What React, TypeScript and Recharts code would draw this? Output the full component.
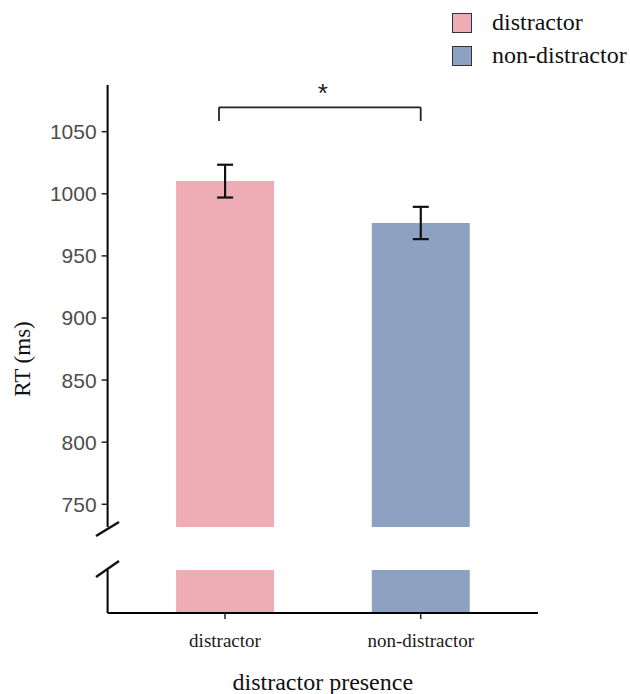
import React from 'react';
import { BarChart, Bar, XAxis, YAxis, Cell, ErrorBar, ReferenceLine, Label } from 'recharts';

// ---- data ----
const categories = ['distractor', 'non-distractor'];
const rtMeans = [1010.2, 976.5];
const rtErrors = [13.2, 13.0];
const barColors = ['#EEADB5', '#8DA2C2'];
const yTicks = [750, 800, 850, 900, 950, 1000, 1050];
const upperDomain: [number, number] = [731.7, 1087.6];
const lowerDomain: [number, number] = [0, 100];
const bracketTop = 1069.6;
const bracketBottom = 1058.6;
const sigLabel = '*';
const legendLabels = ['distractor', 'non-distractor'];
const xTitle = 'distractor presence';
const yTitle = 'RT (ms)';

const data = categories.map((c, i) => ({ category: c, rt: rtMeans[i], err: rtErrors[i] }));

const SERIF = '"Liberation Serif", "Times New Roman", serif';
const SANS = '"Liberation Sans", Arial, sans-serif';
const W = 630;
const H = 694;

const YTitle = () => {
  const cx = 22;
  const cy = 359;
  return (
    <text
      x={cx}
      y={cy}
      transform={`rotate(-90 ${cx} ${cy})`}
      textAnchor="middle"
      dominantBaseline="central"
      fontFamily={SERIF}
      fontSize={23}
      fill="#111"
    >
      {yTitle}
    </text>
  );
};

// bracket drawn along the reference segment; left end nudged slightly as in the figure
const BracketLine = (props: any) => {
  const { x1, y1, x2, y2, shiftLeft } = props;
  const a = shiftLeft ? x1 - 6 : x1;
  const b = shiftLeft && x2 === x1 ? x2 - 6 : x2;
  return <line x1={a} y1={y1} x2={b} y2={y2} stroke="#222" strokeWidth={1.8} />;
};

export default function App() {
  return (
    <div style={{ position: 'absolute', left: 0, top: 0, width: W, height: H, background: '#fff' }}>
      {/* upper segment */}
      <div style={{ position: 'absolute', left: 0, top: 0 }}>
        <BarChart width={W} height={H} data={data} margin={{ top: 85, right: 92, bottom: 167, left: 0 }} barCategoryGap="25%">
          <XAxis dataKey="category" hide padding={{ left: 19.55, right: 19.45 }} />
          <YAxis
            width={107.6}
            domain={upperDomain}
            allowDataOverflow
            ticks={yTicks}
            tickSize={6}
            tickMargin={5}
            axisLine={{ stroke: '#000', strokeWidth: 2 }}
            tickLine={{ stroke: '#222', strokeWidth: 1.5 }}
            tick={{ fill: '#4d4d4d', fontSize: 21, fontFamily: SANS }}
          >
            <Label content={<YTitle />} />
          </YAxis>
          <Bar dataKey="rt" isAnimationActive={false}>
            {data.map((d, i) => (
              <Cell key={d.category} fill={barColors[i]} />
            ))}
            <ErrorBar dataKey="err" width={8} stroke="#111" strokeWidth={2.2} direction="y" />
          </Bar>
          <ReferenceLine
            segment={[{ x: categories[0], y: bracketTop }, { x: categories[1], y: bracketTop }]}
            stroke="#222"
            strokeWidth={1.8}
            shape={(p: any) => <BracketLine {...p} shiftLeft />}
            label={{ value: sigLabel, position: 'top', offset: 5, fill: '#222', fontSize: 26, fontFamily: SANS }}
          />
          <ReferenceLine
            segment={[{ x: categories[0], y: bracketTop }, { x: categories[0], y: bracketBottom }]}
            stroke="#222"
            strokeWidth={1.8}
            shape={(p: any) => <BracketLine {...p} shiftLeft />}
          />
          <ReferenceLine
            segment={[{ x: categories[1], y: bracketTop }, { x: categories[1], y: bracketBottom }]}
            stroke="#222"
            strokeWidth={1.8}
            shape={(p: any) => <BracketLine {...p} />}
          />
        </BarChart>
      </div>

      {/* lower segment */}
      <div style={{ position: 'absolute', left: 0, top: 0 }}>
        <BarChart width={W} height={H} data={data} margin={{ top: 570, right: 92, bottom: 0, left: 0 }} barCategoryGap="25%">
          <XAxis
            dataKey="category"
            height={81}
            padding={{ left: 19.55, right: 19.45 }}
            tickSize={6}
            tickMargin={15}
            axisLine={{ stroke: '#000', strokeWidth: 2 }}
            tickLine={{ stroke: '#222', strokeWidth: 1.5 }}
            tick={{ fill: '#1a1a1a', fontSize: 19, fontFamily: SERIF }}
          >
            <Label value={xTitle} position="insideBottom" offset={4} fill="#111" fontSize={24} fontFamily={SERIF} />
          </XAxis>
          <YAxis
            width={107.6}
            domain={lowerDomain}
            allowDataOverflow
            tick={false}
            tickLine={false}
            axisLine={{ stroke: '#000', strokeWidth: 2 }}
          />
          <Bar dataKey="rt" isAnimationActive={false}>
            {data.map((d, i) => (
              <Cell key={d.category} fill={barColors[i]} />
            ))}
          </Bar>
        </BarChart>
      </div>

      {/* axis break marks */}
      <svg width={W} height={H} style={{ position: 'absolute', left: 0, top: 0, pointerEvents: 'none' }}>
        <line x1={96} y1={536} x2={119} y2={522} stroke="#111" strokeWidth={2.5} />
        <line x1={96} y1={577} x2={119} y2={561} stroke="#111" strokeWidth={2.5} />
      </svg>

      {/* legend */}
      {legendLabels.map((lab, i) => (
        <div
          key={lab}
          style={{
            position: 'absolute',
            left: 452,
            top: 12 + i * 33,
            height: 21,
            display: 'flex',
            alignItems: 'center',
          }}
        >
          <div
            style={{
              width: 18,
              height: 18,
              background: barColors[i],
              border: '1.5px solid #333',
            }}
          />
          <span
            style={{
              marginLeft: 20,
              fontFamily: SERIF,
              fontSize: 24,
              color: '#111',
              lineHeight: '21px',
              whiteSpace: 'nowrap',
            }}
          >
            {lab}
          </span>
        </div>
      ))}
    </div>
  );
}
